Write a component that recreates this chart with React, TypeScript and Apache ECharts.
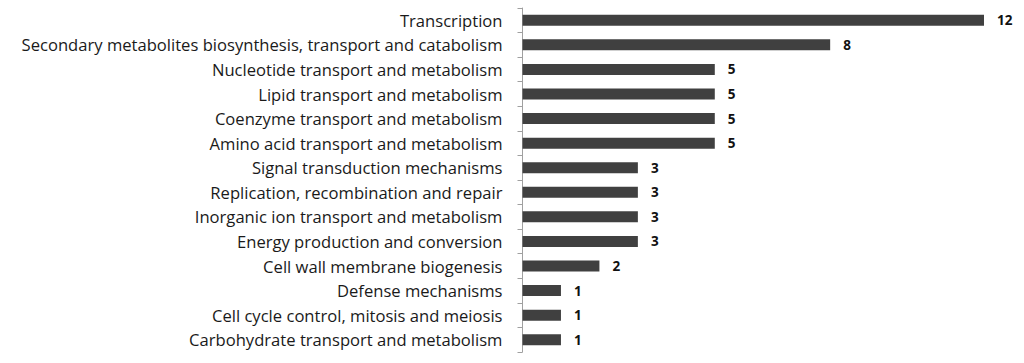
import React, { useEffect, useRef } from "react";
import * as echarts from "echarts";

const categories = [
  "Transcription",
  "Secondary metabolites biosynthesis, transport and catabolism",
  "Nucleotide transport and metabolism",
  "Lipid transport and metabolism",
  "Coenzyme transport and metabolism",
  "Amino acid transport and metabolism",
  "Signal transduction mechanisms",
  "Replication, recombination and repair",
  "Inorganic ion transport and metabolism",
  "Energy production and conversion",
  "Cell wall membrane biogenesis",
  "Defense mechanisms",
  "Cell cycle control, mitosis and meiosis",
  "Carbohydrate transport and metabolism",
];
const counts = [12, 8, 5, 5, 5, 5, 3, 3, 3, 3, 2, 1, 1, 1];

export default function App() {
  const ref = useRef<HTMLDivElement>(null);
  useEffect(() => {
    if (!ref.current) return;
    const chart = echarts.init(ref.current, null, { renderer: "svg" });
    chart.setOption({
      animation: false,
      backgroundColor: "#ffffff",
      grid: { left: 522.5, top: 8, width: 461.5, height: 344, containLabel: false },
      xAxis: {
        type: "value",
        min: 0,
        max: 12,
        show: false,
      },
      yAxis: {
        type: "category",
        data: categories,
        inverse: true,
        axisLine: { show: true, lineStyle: { color: "#a0a0a0", width: 1 } },
        axisTick: { show: true, length: 5, lineStyle: { color: "#a0a0a0" } },
        axisLabel: {
          margin: 20,
          color: "#1a1a1a",
          fontFamily: "Open Sans",
          fontSize: 16.6,
        },
      },
      series: [
        {
          type: "bar",
          data: counts,
          barWidth: 11,
          itemStyle: { color: "#404040" },
          label: {
            show: true,
            position: "right",
            distance: 13,
            color: "#111111",
            fontFamily: "Open Sans",
            fontWeight: "bold",
            fontSize: 13.5,
          },
        },
      ],
    });
    return () => chart.dispose();
  }, []);
  return (
    <div
      ref={ref}
      style={{ position: "fixed", left: 0, top: 0, width: 1024, height: 363 }}
    />
  );
}
